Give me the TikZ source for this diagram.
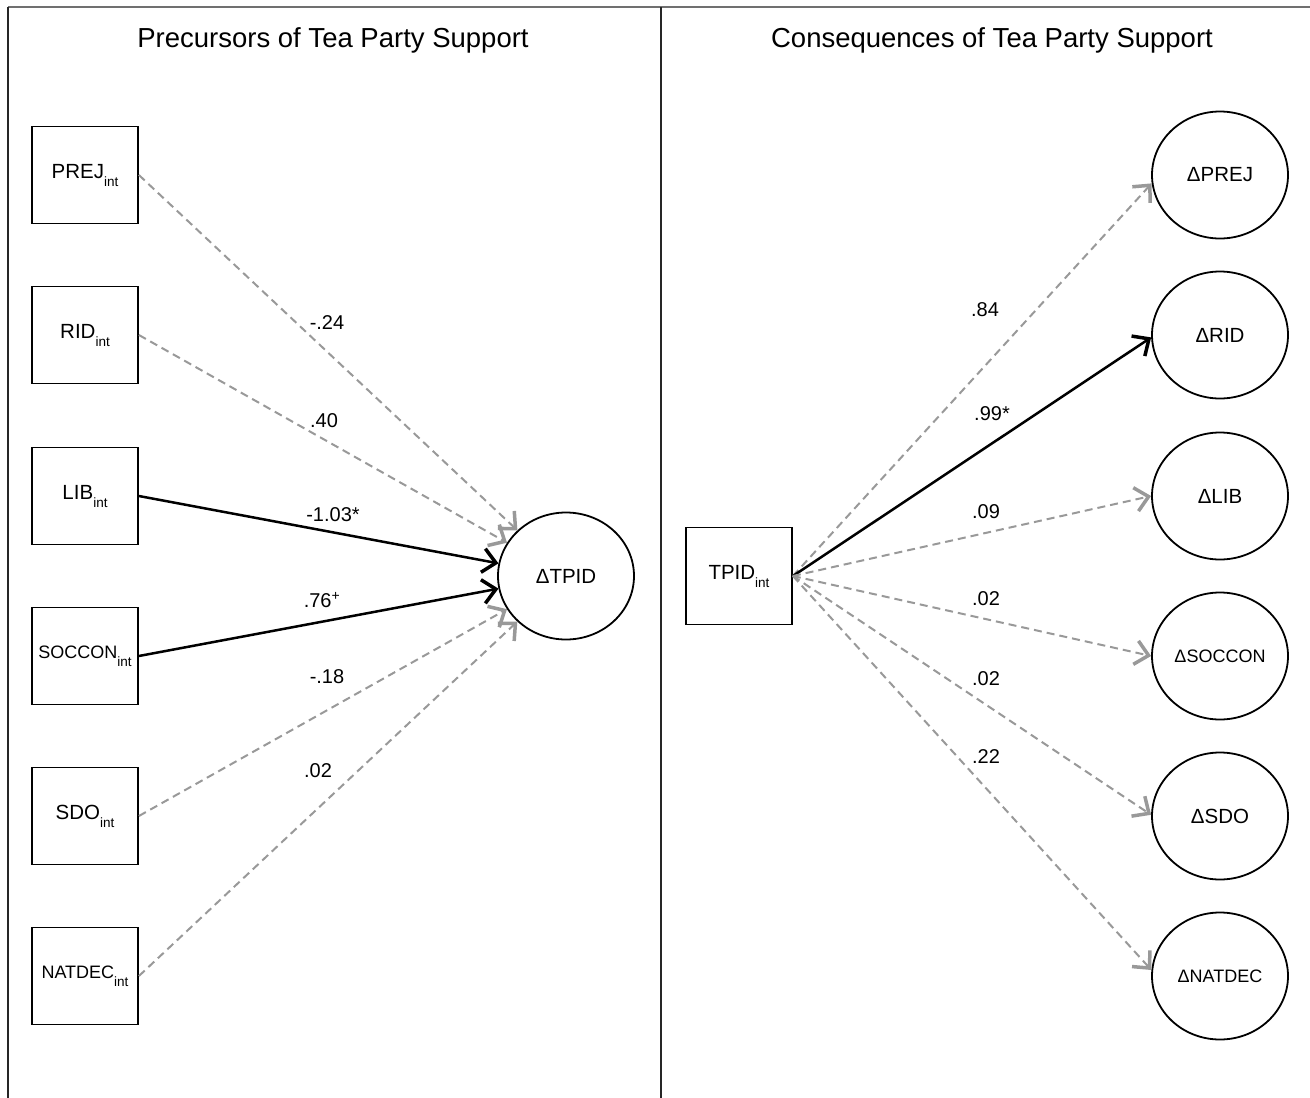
\documentclass[tikz,border=0pt]{standalone}
\usepackage{fontspec}
\setmainfont{Liberation Sans}
\usetikzlibrary{arrows.meta}
\definecolor{dgray}{HTML}{999999}
\definecolor{bgray}{HTML}{707070}
\newcommand{\lab}[2]{#1\raisebox{-8pt}{\fontsize{13.5}{14}\selectfont #2}}
\tikzset{
  x=1pt, y=-1pt,
  boxnode/.style={draw=black, line width=1.8pt, minimum width=106pt, minimum height=97pt, inner sep=0pt, font=\fontsize{20.5}{22}\selectfont},
  circnode/.style={draw=black, line width=1.8pt, ellipse, minimum width=136pt, minimum height=127pt, inner sep=0pt, font=\fontsize{20.5}{22}\selectfont},
  smallfont/.style={font=\fontsize{18}{20}\selectfont},
  coef/.style={font=\fontsize{20}{22}\selectfont, inner sep=0pt},
  title/.style={font=\fontsize{27.5}{30}\selectfont, inner sep=0pt},
  sig/.style={draw=black, line width=2.5pt, -{Straight Barb[length=13pt, width=24pt, line width=3.5pt]}},
  nsig/.style={draw=dgray, line width=2pt, dash pattern=on 8pt off 5pt, -{Straight Barb[length=13pt, width=24pt, line width=3.5pt]}},
}
\usetikzlibrary{shapes.geometric}
\begin{document}
\begin{tikzpicture}
\useasboundingbox (0,0) rectangle (1310,1098);
% frame
\draw[bgray, line width=2.5pt] (8,7) -- (1310,7);
\draw[black!85, line width=1.6pt] (8,7) -- (8,1098);
\draw[black!85, line width=1.6pt] (661,7) -- (661,1098);
% titles
\node[title] (t1) at (333,40) {Precursors of Tea Party Support};
\node[title] (t2) at (992,40) {Consequences of Tea Party Support};
% left boxes
\node[boxnode] (prej) at (85,175) {\lab{PREJ}{int}};
\node[boxnode] (rid) at (85,335) {\lab{RID}{int}};
\node[boxnode] (lib) at (85,496) {\lab{LIB}{int}};
\node[boxnode, smallfont] (soccon) at (85,656) {\lab{SOCCON}{int}};
\node[boxnode] (sdo) at (85,816) {\lab{SDO}{int}};
\node[boxnode, smallfont] (natdec) at (85,976) {\lab{NATDEC}{int}};
\node[circnode] (tpid) at (566,576) {ΔTPID};
% right
\node[boxnode] (tpidint) at (739,576) {\lab{TPID}{int}};
\node[circnode] (dprej) at (1220,175) {ΔPREJ};
\node[circnode] (drid) at (1220,335) {ΔRID};
\node[circnode] (dlib) at (1220,496) {ΔLIB};
\node[circnode, smallfont] (dsoccon) at (1220,656) {ΔSOCCON};
\node[circnode] (dsdo) at (1220,816) {ΔSDO};
\node[circnode, smallfont] (dnatdec) at (1220,976) {ΔNATDEC};
% left arrows
\draw[nsig] (prej.east) -- (tpid);
\draw[nsig] (rid.east) -- (tpid);
\draw[sig] (lib.east) -- (tpid);
\draw[sig] (soccon.east) -- (tpid);
\draw[nsig] (sdo.east) -- (tpid);
\draw[nsig] (natdec.east) -- (tpid);
% right arrows
\draw[nsig] (tpidint.east) -- (dprej.187);
\draw[sig] (tpidint.east) -- (drid.182);
\draw[nsig] (tpidint.east) -- (dlib.180);
\draw[nsig] (tpidint.east) -- (dsoccon.180);
\draw[nsig] (tpidint.east) -- (dsdo.179);
\draw[nsig] (tpidint.east) -- (dnatdec.175);
% coefficient labels
\node[coef] (c1) at (327,323) {-.24};
\node[coef] (c2) at (324,421) {.40};
\node[coef] (c3) at (333,515) {-1.03*};
\node[coef] (c4) at (322,600) {.76\textsuperscript{+}};
\node[coef] (c5) at (327,677) {-.18};
\node[coef] (c6) at (318,771) {.02};
\node[coef] (r1) at (985,310) {.84};
\node[coef] (r2) at (992,414) {.99*};
\node[coef] (r3) at (986,512) {.09};
\node[coef] (r4) at (986,599) {.02};
\node[coef] (r5) at (986,679) {.02};
\node[coef] (r6) at (986,757) {.22};
\end{tikzpicture}
\end{document}
